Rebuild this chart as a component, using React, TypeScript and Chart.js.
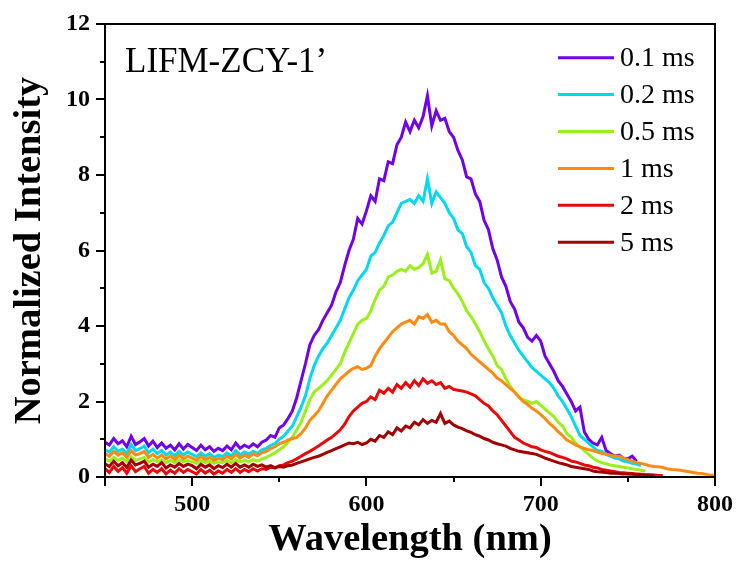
import React, { useEffect, useRef } from 'react';
import { Chart, registerables } from 'chart.js';

Chart.register(...registerables);

const W = 737;
const H = 563;

// sampling grid of the spectra (nm)
const WL_START = 450;
const WL_STEP = 2.5;

const LABELS = ['0.1 ms', '0.2 ms', '0.5 ms', '1 ms', '2 ms', '5 ms'];
const COLORS = ['#7000E8', '#00D8F2', '#9AF01A', '#FF8C10', '#E80808', '#A00000'];

const X_LABELED = [500, 600, 700, 800];
const X_MINOR = [550, 650, 750];
const Y_MINOR = [1, 3, 5, 7, 9, 11];
const SAMPLE = 'LIFM-ZCY-1\u2019';

const S_01 = [
  0.92, 0.85, 1.02, 0.88, 0.96, 0.80, 1.08, 0.86, 0.93, 1.02,
  0.82, 0.95, 0.78, 0.90, 0.76, 0.84, 0.72, 0.88, 0.74, 0.86,
  0.78, 0.70, 0.84, 0.72, 0.80, 0.68, 0.76, 0.70, 0.82, 0.72,
  0.90, 0.76, 0.84, 0.78, 0.88, 0.80, 0.92, 0.98, 1.10, 1.05,
  1.30, 1.38, 1.55, 1.75, 2.10, 2.55, 3.00, 3.50, 3.75, 3.90,
  4.15, 4.35, 4.55, 4.90, 5.15, 5.60, 6.00, 6.30, 6.85, 6.70,
  7.05, 7.45, 7.30, 7.90, 7.85, 8.35, 8.30, 8.80, 9.00, 9.40,
  9.15, 9.45, 9.25, 9.55, 10.10, 9.30, 9.70, 9.45, 9.50, 9.15,
  9.00, 8.65, 8.40, 7.95, 7.90, 7.50, 7.30, 6.80, 6.55, 6.05,
  5.75, 5.30, 5.05, 4.65, 4.45, 4.10, 3.95, 3.70, 3.60, 3.75,
  3.60, 3.20, 3.00, 2.80, 2.55, 2.40, 2.20, 2.00, 1.75, 1.85,
  1.20, 1.00, 0.90, 0.85, 1.05, 0.70, 0.62, 0.55, 0.58, 0.50,
  0.48, 0.55, 0.42,
];

const S_02 = [
  0.72, 0.66, 0.80, 0.68, 0.74, 0.62, 0.86, 0.70, 0.75, 0.82,
  0.64, 0.74, 0.62, 0.70, 0.58, 0.66, 0.56, 0.68, 0.58, 0.66,
  0.60, 0.54, 0.64, 0.55, 0.62, 0.52, 0.58, 0.54, 0.64, 0.56,
  0.70, 0.58, 0.66, 0.60, 0.68, 0.62, 0.72, 0.76, 0.84, 0.88,
  1.00, 1.08, 1.22, 1.35, 1.60, 1.85, 2.15, 2.60, 2.95, 3.20,
  3.40, 3.55, 3.75, 3.95, 4.15, 4.45, 4.75, 4.95, 5.20, 5.35,
  5.50, 5.85, 5.95, 6.20, 6.40, 6.65, 6.75, 7.00, 7.25, 7.30,
  7.35, 7.25, 7.45, 7.30, 7.90, 7.25, 7.55, 7.40, 7.25, 7.00,
  6.85, 6.55, 6.45, 6.10, 5.95, 5.60, 5.50, 5.15, 5.00, 4.75,
  4.55, 4.35, 4.00, 3.75, 3.55, 3.35, 3.20, 3.05, 2.90, 2.80,
  2.70, 2.60, 2.50, 2.35, 2.15, 2.00, 1.80, 1.60, 1.35, 1.10,
  1.00, 0.90, 0.80, 0.70, 0.68, 0.60, 0.55, 0.50, 0.48, 0.42,
  0.40, 0.36, 0.34, 0.30,
];

const S_05 = [
  0.48, 0.42, 0.52, 0.44, 0.50, 0.40, 0.54, 0.44, 0.48, 0.52,
  0.40, 0.46, 0.40, 0.46, 0.38, 0.44, 0.38, 0.46, 0.40, 0.44,
  0.40, 0.36, 0.44, 0.38, 0.42, 0.36, 0.40, 0.38, 0.44, 0.38,
  0.46, 0.40, 0.44, 0.40, 0.46, 0.42, 0.48, 0.52, 0.58, 0.64,
  0.72, 0.80, 0.92, 1.05, 1.25, 1.45, 1.75, 2.05, 2.25, 2.35,
  2.45, 2.55, 2.70, 2.85, 3.00, 3.30, 3.55, 3.80, 4.05, 4.15,
  4.20, 4.40, 4.70, 4.95, 5.05, 5.30, 5.35, 5.45, 5.50, 5.45,
  5.60, 5.50, 5.55, 5.65, 5.90, 5.40, 5.45, 5.75, 5.25, 5.20,
  5.00, 4.85, 4.65, 4.40, 4.25, 4.05, 3.85, 3.60, 3.40, 3.20,
  2.95, 2.85, 2.60, 2.40, 2.25, 2.10, 2.05, 2.00, 1.95, 2.00,
  1.90, 1.80, 1.70, 1.60, 1.45, 1.35, 1.15, 1.05, 0.90, 0.80,
  0.70, 0.60, 0.50, 0.42, 0.38, 0.35, 0.32, 0.30, 0.28, 0.26,
  0.24, 0.22, 0.20, 0.18, 0.16,
];

const S_1 = [
  0.62, 0.55, 0.68, 0.58, 0.64, 0.52, 0.70, 0.58, 0.62, 0.68,
  0.52, 0.60, 0.50, 0.58, 0.48, 0.56, 0.46, 0.58, 0.48, 0.55,
  0.50, 0.44, 0.55, 0.46, 0.52, 0.44, 0.50, 0.46, 0.55, 0.48,
  0.60, 0.50, 0.58, 0.52, 0.62, 0.56, 0.64, 0.68, 0.75, 0.80,
  0.88, 0.92, 0.98, 1.02, 1.05, 1.15, 1.30, 1.50, 1.62, 1.75,
  1.95, 2.15, 2.30, 2.45, 2.60, 2.70, 2.80, 2.88, 2.92, 2.85,
  2.88, 2.95, 3.20, 3.40, 3.55, 3.70, 3.85, 3.95, 4.05, 4.10,
  4.15, 4.05, 4.25, 4.20, 4.30, 4.10, 4.15, 4.05, 4.05, 3.85,
  3.75, 3.60, 3.50, 3.40, 3.25, 3.15, 3.05, 2.95, 2.85, 2.75,
  2.62, 2.55, 2.45, 2.35, 2.25, 2.12, 2.00, 1.92, 1.82, 1.75,
  1.65, 1.55, 1.42, 1.32, 1.20, 1.10, 0.98, 0.92, 0.85, 0.80,
  0.76, 0.72, 0.70, 0.66, 0.62, 0.60, 0.58, 0.55, 0.55, 0.50,
  0.46, 0.42, 0.38, 0.36, 0.33, 0.30, 0.28, 0.27, 0.25, 0.22,
  0.20, 0.19, 0.18, 0.16, 0.14, 0.12, 0.10, 0.09, 0.07, 0.05,
  0.04,
];

const S_2 = [
  0.22, 0.12, 0.28, 0.15, 0.25, 0.10, 0.30, 0.14, 0.22, 0.28,
  0.10, 0.20, 0.12, 0.22, 0.08, 0.18, 0.10, 0.22, 0.12, 0.20,
  0.14, 0.08, 0.20, 0.10, 0.18, 0.08, 0.16, 0.10, 0.20, 0.12,
  0.22, 0.12, 0.20, 0.14, 0.22, 0.16, 0.22, 0.20, 0.26, 0.24,
  0.30, 0.32, 0.38, 0.42, 0.48, 0.55, 0.62, 0.68, 0.75, 0.82,
  0.90, 0.98, 1.05, 1.15, 1.25, 1.40, 1.60, 1.75, 1.85, 1.95,
  2.00, 2.12, 2.05, 2.30, 2.22, 2.35, 2.25, 2.45, 2.35, 2.50,
  2.38, 2.55, 2.42, 2.60, 2.48, 2.55, 2.45, 2.50, 2.35, 2.40,
  2.32, 2.30, 2.28, 2.25, 2.20, 2.15, 2.05, 1.95, 1.88, 1.75,
  1.65, 1.50, 1.35, 1.20, 1.05, 0.98, 0.90, 0.85, 0.80, 0.78,
  0.72, 0.68, 0.65, 0.60, 0.55, 0.52, 0.48, 0.42, 0.40, 0.36,
  0.32, 0.30, 0.26, 0.24, 0.20, 0.18, 0.16, 0.14, 0.12, 0.11,
  0.10, 0.09, 0.08, 0.07, 0.06, 0.05, 0.05, 0.04, 0.04,
];

const S_5 = [
  0.35, 0.28, 0.42, 0.30, 0.38, 0.25, 0.45, 0.32, 0.36, 0.42,
  0.26, 0.34, 0.28, 0.38, 0.24, 0.32, 0.26, 0.36, 0.28, 0.34,
  0.30, 0.22, 0.34, 0.26, 0.32, 0.22, 0.30, 0.25, 0.34, 0.26,
  0.36, 0.26, 0.32, 0.26, 0.34, 0.28, 0.32, 0.26, 0.30, 0.24,
  0.28, 0.26, 0.30, 0.32, 0.36, 0.40, 0.44, 0.48, 0.52, 0.55,
  0.60, 0.65, 0.70, 0.75, 0.80, 0.85, 0.90, 0.88, 0.92, 0.86,
  0.90, 1.00, 0.95, 1.10, 1.05, 1.20, 1.12, 1.30, 1.22, 1.35,
  1.30, 1.45, 1.38, 1.52, 1.42, 1.50, 1.45, 1.68, 1.42, 1.48,
  1.38, 1.32, 1.28, 1.22, 1.18, 1.12, 1.08, 1.02, 0.98, 0.92,
  0.88, 0.85, 0.82, 0.76, 0.72, 0.68, 0.66, 0.64, 0.62, 0.60,
  0.55, 0.50, 0.46, 0.42, 0.38, 0.35, 0.32, 0.28, 0.26, 0.24,
  0.22, 0.20, 0.16, 0.14, 0.13, 0.12, 0.10, 0.10, 0.09, 0.08,
  0.08, 0.07, 0.06, 0.06, 0.05, 0.05, 0.04,
];

const SERIES = [S_01, S_02, S_05, S_1, S_2, S_5];

const SERIF = '"Liberation Serif", "Times New Roman", serif';

const toPoints = (arr: number[]) =>
  arr.map((y, i) => ({ x: WL_START + i * WL_STEP, y }));

const decorPlugin = {
  id: 'decor',
  afterDraw(chart: any) {
    const { ctx, chartArea: a, scales } = chart;
    ctx.save();
    ctx.strokeStyle = '#000';
    ctx.lineWidth = 2;
    ctx.strokeRect(a.left, a.top, a.right - a.left, a.bottom - a.top);

    ctx.beginPath();
    for (const v of X_MINOR) {
      const px = Math.round(scales.x.getPixelForValue(v));
      ctx.moveTo(px, a.bottom);
      ctx.lineTo(px, a.bottom + 5);
    }
    for (const v of Y_MINOR) {
      const py = Math.round(scales.y.getPixelForValue(v));
      ctx.moveTo(a.left, py);
      ctx.lineTo(a.left - 5, py);
    }
    ctx.stroke();

    ctx.fillStyle = '#000';
    ctx.textBaseline = 'alphabetic';
    ctx.textAlign = 'left';
    ctx.font = `35px ${SERIF}`;
    ctx.fillText(SAMPLE, a.left + 20, a.top + 48);

    ctx.font = `28px ${SERIF}`;
    LABELS.forEach((lab, i) => {
      const y = a.top + 33.7 + i * 36.9;
      ctx.strokeStyle = COLORS[i];
      ctx.lineWidth = 3;
      ctx.beginPath();
      ctx.moveTo(a.right - 157, y);
      ctx.lineTo(a.right - 101, y);
      ctx.stroke();
      ctx.fillStyle = '#000';
      ctx.fillText(lab, a.right - 95, y + 8.5);
    });
    ctx.restore();
  },
};

export default function App() {
  const ref = useRef<HTMLCanvasElement | null>(null);

  useEffect(() => {
    document.body.style.margin = '0';
    const canvas = ref.current;
    if (!canvas) return;
    const tickFont = { family: SERIF, size: 24, weight: 'bold' as const };
    const titleFont = { family: SERIF, size: 38.5, weight: 'bold' as const };
    const chart = new Chart(canvas, {
      type: 'line',
      data: {
        datasets: SERIES.map((s, i) => ({
          label: LABELS[i],
          data: toPoints(s),
          borderColor: COLORS[i],
          backgroundColor: COLORS[i],
          borderWidth: 3,
          pointRadius: 0,
          tension: 0,
          fill: false,
          order: SERIES.length - i,
        })),
      },
      options: {
        responsive: false,
        animation: false,
        devicePixelRatio: 1,
        layout: { padding: { top: 24, right: 22, left: 0, bottom: 0 } },
        plugins: {
          legend: { display: false },
          tooltip: { enabled: false },
        },
        scales: {
          x: {
            type: 'linear',
            min: 450,
            max: 800,
            afterFit: (s: any) => {
              s.height = 86;
            },
            ticks: {
              stepSize: 100,
              autoSkip: false,
              maxRotation: 0,
              color: '#000',
              font: tickFont,
              padding: 4,
              callback: (v: any) => (X_LABELED.includes(Number(v)) ? String(v) : ''),
            },
            grid: {
              display: true,
              drawOnChartArea: false,
              drawTicks: true,
              tickLength: 9,
              color: '#000',
              lineWidth: 2,
            },
            border: { display: true, color: '#000', width: 2 },
            title: {
              display: true,
              text: 'Wavelength (nm)',
              color: '#000',
              font: titleFont,
              padding: { top: 0, bottom: 0 },
            },
          },
          y: {
            type: 'linear',
            min: 0,
            max: 12,
            afterFit: (s: any) => {
              s.width = 105;
            },
            ticks: {
              stepSize: 2,
              color: '#000',
              font: tickFont,
              padding: 6,
            },
            grid: {
              display: true,
              drawOnChartArea: false,
              drawTicks: true,
              tickLength: 9,
              color: '#000',
              lineWidth: 2,
            },
            border: { display: true, color: '#000', width: 2 },
            title: {
              display: true,
              text: 'Normalized Intensity',
              color: '#000',
              font: titleFont,
              padding: { top: 7, bottom: 0 },
            },
          },
        },
      },
      plugins: [decorPlugin],
    } as any);
    return () => chart.destroy();
  }, []);

  return <canvas ref={ref} width={W} height={H} style={{ display: 'block' }} />;
}
